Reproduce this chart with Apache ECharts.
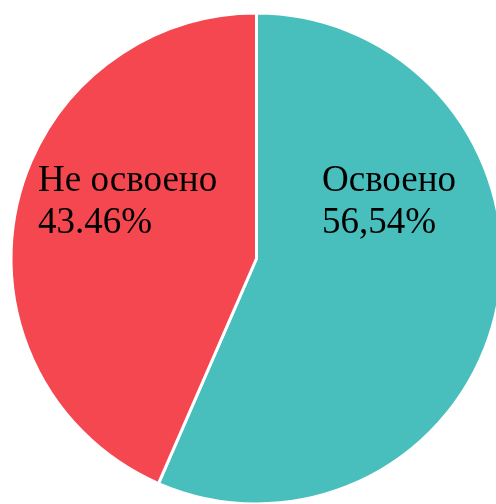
<!DOCTYPE html>
<html>
<head>
<meta charset="utf-8">
<script src="https://cdn.jsdelivr.net/npm/echarts@6/dist/echarts.min.js"></script>
<style>html,body{margin:0;padding:0;background:#fff}#c{width:496px;height:504px}</style>
</head>
<body>
<div id="c"></div>
<script>
const categories = ['Освоено', 'Не освоено'];
const values = [56.54, 43.46];
const valueLabels = ['56,54%', '43.46%'];
const colors = ['#48BFBC', '#F5474F'];

const chart = echarts.init(document.getElementById('c'), null, {renderer: 'canvas'});
const labelPos = [[322, 202], [38, 202]];
chart.setOption({
  animation: false,
  series: [{
    type: 'pie',
    center: [256.5, 258.5],
    radius: [0, 245.5],
    startAngle: 90,
    clockwise: true,
    data: categories.map((c, i) => ({name: c, value: values[i], itemStyle: {color: colors[i]}})),
    itemStyle: {borderColor: '#fff', borderWidth: 3},
    label: {
      show: true,
      position: 'inside',
      formatter: p => p.name + '\n' + valueLabels[p.dataIndex],
      fontFamily: '"Liberation Serif", "Times New Roman", serif',
      fontSize: 37,
      lineHeight: 42,
      color: '#000',
      align: 'left'
    },
    labelLine: {show: false},
    labelLayout: p => ({x: labelPos[p.dataIndex][0], y: labelPos[p.dataIndex][1], align: 'left', verticalAlign: 'middle'}),
    emphasis: {disabled: true}
  }]
});
</script>
</body>
</html>
